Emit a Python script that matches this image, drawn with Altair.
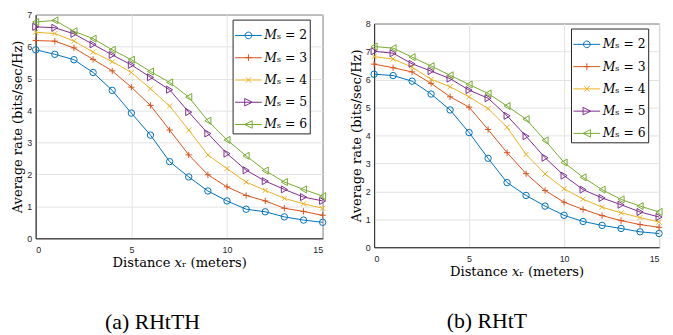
import altair as alt
import pandas as pd

x_vals = list(range(16))
series_labels = ["𝑀ₛ = 2", "𝑀ₛ = 3", "𝑀ₛ = 4", "𝑀ₛ = 5", "𝑀ₛ = 6"]
colors = ["#0072BD", "#D95319", "#EDB120", "#7E2F8E", "#77AC30"]

# (a) RHtTH
a_ms2 = [5.90, 5.76, 5.59, 5.19, 4.63, 3.92, 3.23, 2.40, 1.92, 1.48, 1.17, 0.91, 0.83, 0.67, 0.57, 0.50]
a_ms3 = [6.19, 6.17, 5.96, 5.60, 5.24, 4.73, 4.16, 3.39, 2.61, 1.99, 1.61, 1.34, 1.17, 0.94, 0.84, 0.72]
a_ms4 = [6.45, 6.41, 6.17, 5.83, 5.53, 5.19, 4.68, 4.14, 3.39, 2.61, 2.18, 1.76, 1.50, 1.25, 1.08, 0.94]
a_ms5 = [6.62, 6.59, 6.40, 6.07, 5.74, 5.43, 5.04, 4.65, 3.95, 3.28, 2.65, 2.13, 1.79, 1.53, 1.29, 1.17]
a_ms6 = [6.77, 6.82, 6.48, 6.25, 5.90, 5.59, 5.22, 4.88, 4.42, 3.68, 3.08, 2.58, 2.12, 1.76, 1.53, 1.32]

# (b) RHtT
b_ms2 = [6.19, 6.14, 5.94, 5.48, 4.91, 4.10, 3.18, 2.31, 1.85, 1.47, 1.14, 0.92, 0.78, 0.67, 0.55, 0.49]
b_ms3 = [6.55, 6.42, 6.27, 5.86, 5.38, 5.01, 4.21, 3.38, 2.63, 2.03, 1.61, 1.35, 1.13, 0.95, 0.81, 0.71]
b_ms4 = [6.82, 6.73, 6.44, 6.01, 5.74, 5.38, 4.96, 4.29, 3.32, 2.62, 2.09, 1.72, 1.43, 1.23, 1.06, 0.90]
b_ms5 = [7.01, 6.94, 6.56, 6.30, 6.03, 5.62, 5.33, 4.70, 3.97, 3.20, 2.56, 2.06, 1.76, 1.52, 1.26, 1.08]
b_ms6 = [7.18, 7.12, 6.80, 6.48, 6.15, 5.82, 5.50, 5.05, 4.58, 3.82, 3.03, 2.50, 2.06, 1.71, 1.47, 1.26]

point_shapes = ["circle", "M-1,0L1,0M0,-1L0,1", "M-1,-1L1,1M-1,1L1,-1", "triangle-right", "triangle-left"]
point_sizes = [42, 40, 26, 50, 50]
legend_shapes = [
    "M-1,0L1,0M-0.25,0A0.25,0.25,0,1,1,0.25,0A0.25,0.25,0,1,1,-0.25,0",
    "M-1,0L1,0M0,-0.25L0,0.25M-0.25,0L0.25,0",
    "M-1,0L1,0M-0.2,-0.2L0.2,0.2M-0.2,0.2L0.2,-0.2",
    "M-1,0L1,0M0.28,0L-0.28,-0.28L-0.28,0.28Z",
    "M-1,0L1,0M-0.28,0L0.28,-0.28L0.28,0.28Z",
]

X_TITLE = "Distance 𝑥ᵣ (meters)"
Y_TITLE = "Average rate (bits/sec/Hz)"


def panel(series_lists, ymax, caption, width, cap_offset, cap_dx, flush_last):
    rows = []
    for lab, ys in zip(series_labels, series_lists):
        for xv, yv in zip(x_vals, ys):
            rows.append({"x": xv, "y": yv, "series": lab})
    df = pd.DataFrame(rows)
    base = alt.Chart(df)

    xscale = alt.Scale(domain=[0, 15], nice=False)
    yscale = alt.Scale(domain=[0, ymax], nice=False)
    xaxis_kw = dict(orient="bottom", values=[0, 5, 10, 15], title=X_TITLE,
                    labelPadding=7, titlePadding=3)
    if flush_last:
        xaxis_kw["labelFlush"] = True
    xenc = alt.X("x:Q", scale=xscale, axis=alt.Axis(**xaxis_kw))
    yenc = alt.Y("y:Q", scale=yscale,
                 axis=alt.Axis(orient="left", values=list(range(ymax + 1)), title=Y_TITLE,
                               labelPadding=4, titlePadding=2))
    cscale = alt.Scale(domain=series_labels, range=colors)

    layers = []
    for i, lab in enumerate(series_labels):
        sub = base.transform_filter(alt.datum.series == lab)
        layers.append(sub.mark_line(strokeWidth=1, color=colors[i]).encode(x=xenc, y=yenc))
    for i, lab in enumerate(series_labels):
        sub = base.transform_filter(alt.datum.series == lab)
        layers.append(sub.mark_point(
            shape=point_shapes[i], filled=False, size=point_sizes[i], strokeWidth=1,
            opacity=1, color=colors[i]
        ).encode(x=xenc, y=yenc))

    leg = alt.Legend(title=None, orient="none", legendX=199, legendY=5, padding=2,
                     strokeColor="#262626", fillColor="white",
                     labelFont="DejaVu Serif", labelFontSize=12.5, labelColor="black",
                     symbolSize=729, symbolStrokeWidth=1, rowPadding=1.5, labelOffset=2)
    legend_layer = base.transform_filter("false").mark_point(
        filled=False, size=729, strokeWidth=1, opacity=1
    ).encode(
        x=xenc, y=yenc,
        color=alt.Color("series:N", scale=cscale, legend=leg),
        shape=alt.Shape("series:N", scale=alt.Scale(domain=series_labels, range=legend_shapes), legend=leg),
    )
    layers.append(legend_layer)

    return alt.layer(*layers).properties(
        width=width, height=226,
        title=alt.TitleParams(caption, orient="bottom", anchor="middle", frame="group",
                              font="Liberation Serif", fontSize=22, fontWeight="normal",
                              color="black", offset=cap_offset, dx=cap_dx),
    )


left = panel([a_ms2, a_ms3, a_ms4, a_ms5, a_ms6], 7, "(a) RHtTH", 290, 43, -27, False)
right = panel([b_ms2, b_ms3, b_ms4, b_ms5, b_ms6], 8, "(b) RHtT", 288, 33, -30, True)

spacer = alt.Chart(pd.DataFrame({"v": [0]})).mark_rule(opacity=0, strokeWidth=0).encode(
    x=alt.value(0), x2=alt.value(0), y=alt.value(0)
).properties(width=10, height=1, view=alt.ViewBackground(stroke=None))

right_col = alt.vconcat(spacer, right, spacing=3).resolve_scale(
    color="independent", shape="independent"
).resolve_legend(color="independent", shape="independent")

chart = alt.hconcat(left, right_col, spacing=20).resolve_scale(
    color="independent", shape="independent"
).resolve_legend(color="independent", shape="independent").properties(
    padding={"left": 2, "top": 0, "right": 0, "bottom": 0}
).configure_axis(
    labelFont="Liberation Sans", labelFontSize=9, labelColor="#262626",
    titleFont="DejaVu Serif", titleFontSize=13.2, titleFontWeight="normal", titleColor="black",
    domainColor="#262626", ticks=False, gridColor="#e3e3e3", grid=True,
).configure_view(stroke="#262626", strokeWidth=1)

chart.save("out.html", embed_options={"renderer": "svg", "actions": False})
